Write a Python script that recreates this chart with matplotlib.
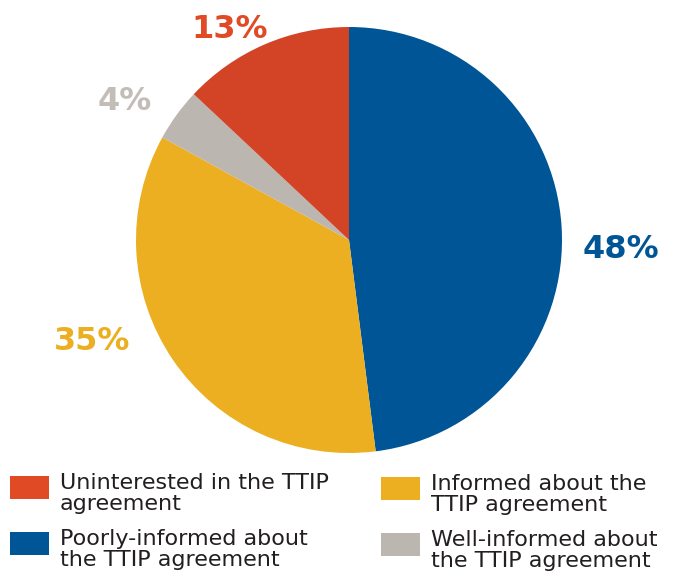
import matplotlib.pyplot as plt
from matplotlib.patches import Rectangle

# Share of respondents by how informed they are about TTIP
labels = ["Poorly-informed about\nthe TTIP agreement",
          "Informed about the\nTTIP agreement",
          "Well-informed about\nthe TTIP agreement",
          "Uninterested in the TTIP\nagreement"]
shares = [48, 35, 4, 13]
colors = ["#005596", "#EBAF21", "#BCB6B0", "#D34427"]
label_colors = ["#005596", "#EBAF21", "#C3BDB8", "#E04A25"]
legend_colors = ["#005596", "#EBAF21", "#BCB6B0", "#E04A25"]

W, H = 681, 575
fig = plt.figure(figsize=(W / 100, H / 100), dpi=100)

# pie centred at (349, 240) px with radius 213 px
cx, cy, r = 349, 240, 213
ax = fig.add_axes([(cx - r) / W, (H - cy - r) / H, 2 * r / W, 2 * r / H])
wedges, _ = ax.pie(shares, colors=colors, startangle=90, counterclock=False,
                   radius=1.0, wedgeprops=dict(linewidth=0))
ax.set_xlim(-1, 1)
ax.set_ylim(-1, 1)
ax.set_aspect("equal")
ax.axis("off")

# percentage labels placed outside the pie (pixel positions)
label_pos = [(621, 250), (92, 341), (125, 102), (230, 29)]
for val, col, (px, py) in zip(shares, label_colors, label_pos):
    fig.text(px / W, 1 - py / H, f"{val}%", color=col, fontsize=23,
             fontweight="bold", ha="center", va="center")

# legend: two columns, order red, blue | yellow, grey
legend_order = [3, 0, 1, 2]
legend_pos = [(10, 476), (10, 532), (381, 477), (381, 533)]
for idx, (sx, sy) in zip(legend_order, legend_pos):
    fig.add_artist(Rectangle((sx / W, 1 - (sy + 23) / H), 39 / W, 23 / H,
                             transform=fig.transFigure, color=legend_colors[idx],
                             linewidth=0))
    fig.text((sx + 50) / W, 1 - (sy - 3) / H, labels[idx], fontsize=16,
             color="#231F20", ha="left", va="top", linespacing=1.08)

fig.savefig("out.png", dpi=100)
